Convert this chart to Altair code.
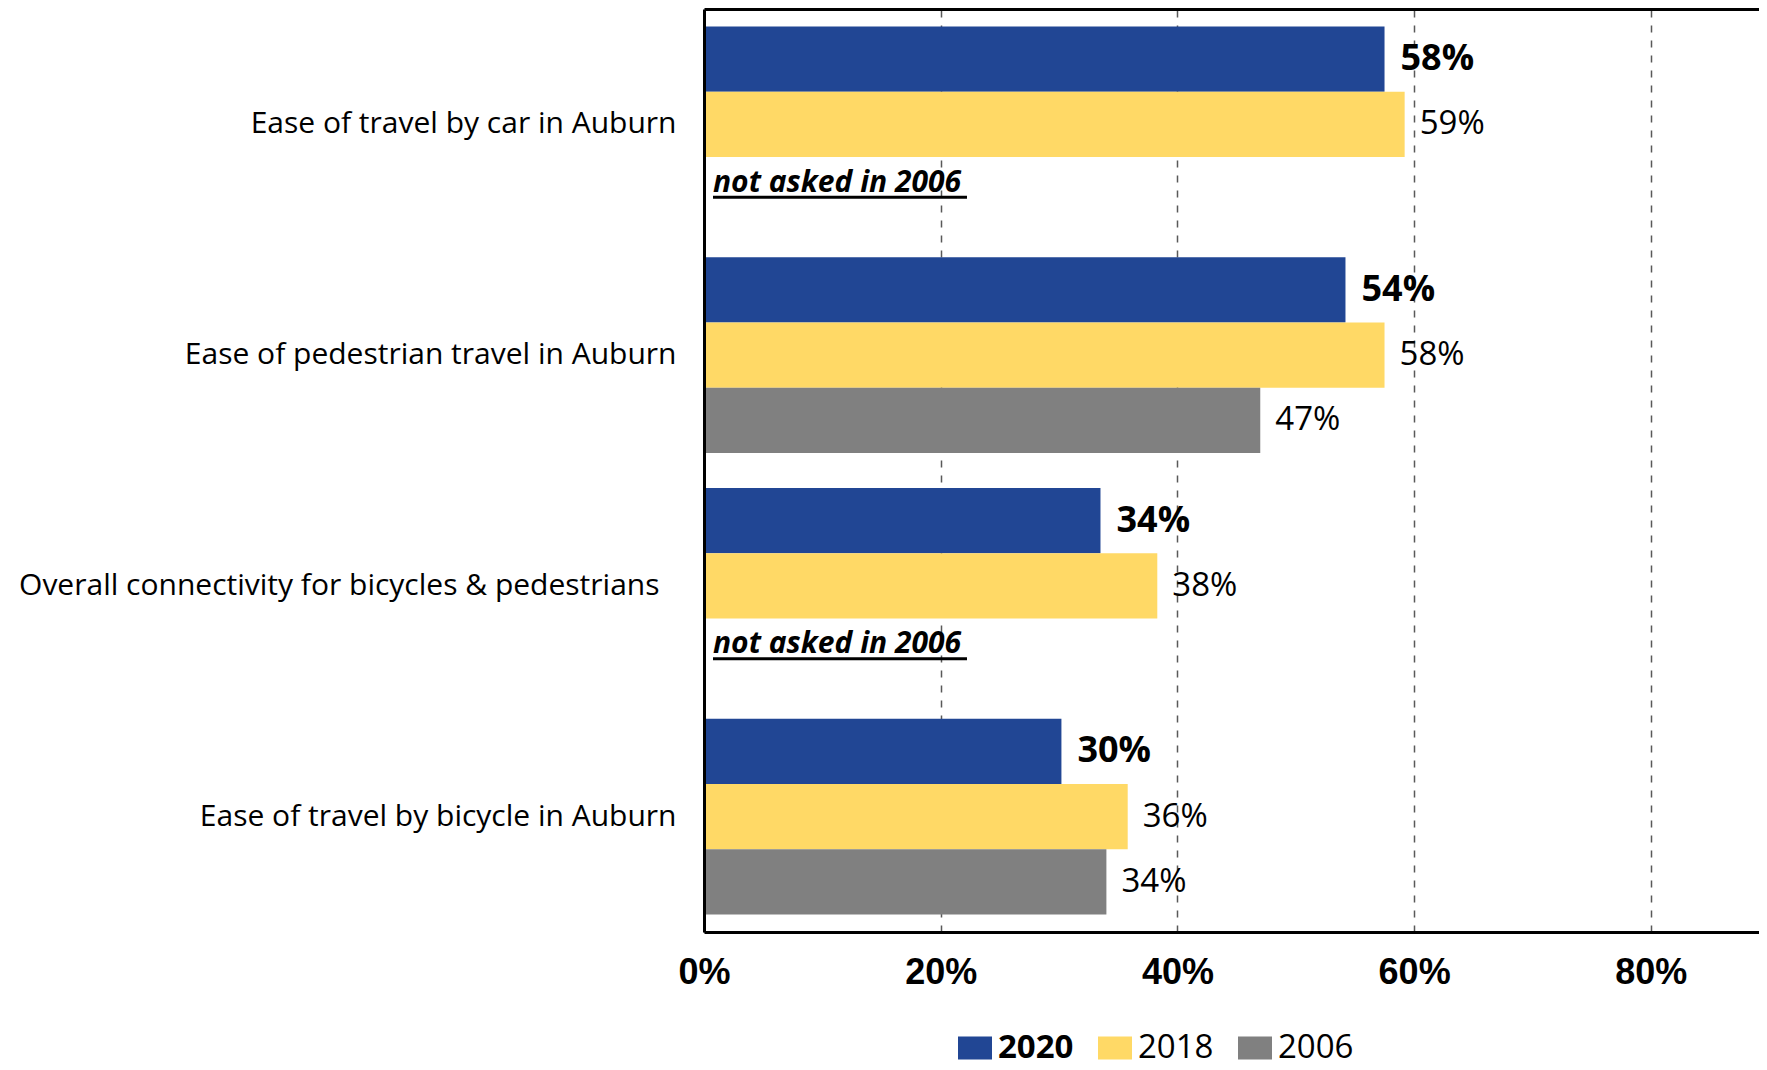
import altair as alt
import pandas as pd

categories = [
    "Ease of travel by car in Auburn",
    "Ease of pedestrian travel in Auburn",
    "Overall connectivity for bicycles & pedestrians",
    "Ease of travel by bicycle in Auburn",
]
years = ["2020", "2018", "2006"]
colors = ["#214694", "#FFD966", "#808080"]

values = {
    "2020": [0.575, 0.542, 0.335, 0.302],
    "2018": [0.592, 0.575, 0.383, 0.358],
    "2006": [None, 0.470, None, 0.340],
}
labels = {
    "2020": ["58%", "54%", "34%", "30%"],
    "2018": ["59%", "58%", "38%", "36%"],
    "2006": ["", "47%", "", "34%"],
}
tick_values = [0, 0.2, 0.4, 0.6, 0.8]
note_text = "not asked in 2006"
note_categories = [categories[0], categories[2]]
note_underline = 0.2146

rows = []
for y in years:
    for c, v, l in zip(categories, values[y], labels[y]):
        if v is not None:
            rows.append({"category": c, "year": y, "value": v, "label": l})
df = pd.DataFrame(rows)
notes = pd.DataFrame({
    "category": note_categories,
    "text": [note_text] * len(note_categories),
    "x0": [0.0] * len(note_categories),
    "x1": [note_underline] * len(note_categories),
})

CAT_FONT = "Open Sans"
AX_FONT = "Liberation Sans"

xscale = alt.Scale(domain=[0, 0.8914], nice=False, zero=True)
yscale = alt.Scale(domain=categories, paddingInner=0.151, paddingOuter=0.0757)
yoff = alt.YOffset("year:N", sort=years, scale=alt.Scale(domain=years, paddingInner=0, paddingOuter=0))
yaxis = alt.Axis(title=None, ticks=False, labelFont=CAT_FONT, labelFontSize=30,
                 labelColor="black", labelLimit=1000,
                 labelPadding={"condition": {"test": "indexof(datum.label, 'Overall') == 0", "value": 45},
                               "value": 28},
                 domainColor="black", domainWidth=3, zindex=1)

bars = alt.Chart(df).mark_bar().encode(
    x=alt.X("value:Q", scale=xscale,
            axis=alt.Axis(values=tick_values, format=".0%", title=None, ticks=False,
                          labelFont=AX_FONT, labelFontSize=36, labelFontWeight="bold",
                          labelColor="black", labelPadding=23, orient="bottom",
                          labelFlush=False,
                          domainColor="black", domainWidth=3,
                          grid=True, gridColor="#595959", gridWidth=1.5, gridDash=[7, 8])),
    y=alt.Y("category:N", sort=categories, scale=yscale, axis=yaxis),
    yOffset=yoff,
    color=alt.Color("year:N", sort=years,
                    scale=alt.Scale(domain=years, range=colors),
                    legend=alt.Legend(title=None, orient="none", direction="horizontal",
                                      legendX=254, legendY=1022,
                                      symbolType="M-1,-0.676H1V0.676H-1Z",
                                      symbolSize=1156, symbolStrokeWidth=0,
                                      labelFont=CAT_FONT, labelFontSize=33,
                                      labelColor="black", labelOffset=6,
                                      columnPadding=24, padding=0,
                                      labelFontWeight=alt.ExprRef("datum.label == '2020' ? 'bold' : 'normal'"))),
)

text_bold = alt.Chart(df).transform_filter("datum.year == '2020'").mark_text(
    align="left", baseline="middle", dx=16, font=CAT_FONT, fontSize=36,
    fontWeight="bold", color="black"
).encode(
    x=alt.X("value:Q", scale=xscale, axis=None),
    y=alt.Y("category:N", sort=categories, scale=yscale, axis=yaxis),
    yOffset=yoff,
    text="label:N",
)

text_reg = alt.Chart(df).transform_filter("datum.year != '2020'").mark_text(
    align="left", baseline="middle", dx=15, font=CAT_FONT, fontSize=33,
    color="black"
).encode(
    x=alt.X("value:Q", scale=xscale, axis=None),
    y=alt.Y("category:N", sort=categories, scale=yscale, axis=yaxis),
    yOffset=yoff,
    text="label:N",
)

note_text_layer = alt.Chart(notes).mark_text(
    align="left", baseline="middle", dx=9, font=CAT_FONT, fontSize=30,
    fontWeight="bold", fontStyle="italic", color="black"
).encode(
    x=alt.X("x0:Q", scale=xscale,
            axis=alt.Axis(orient="top", labels=False, ticks=False, grid=False, title=None,
                          domainColor="black", domainWidth=3)),
    y=alt.Y("category:N", sort=categories, scale=yscale, bandPosition=0.797, axis=yaxis),
    text="text:N",
)

note_rule = alt.Chart(notes).mark_rule(
    color="black", strokeWidth=3, xOffset=9, x2Offset=9
).encode(
    x=alt.X("x0:Q", scale=xscale, axis=None),
    x2="x1:Q",
    y=alt.Y("category:N", sort=categories, scale=yscale, bandPosition=0.872, axis=yaxis),
)

chart = alt.layer(bars, text_bold, text_reg, note_text_layer, note_rule).resolve_axis(
    x="independent"
).properties(
    width=1055, height=923,
    padding={"left": 696, "top": 1, "right": 0, "bottom": 150},
    autosize=alt.AutoSizeParams(type="none"),
).configure_view(stroke=None).configure(background="white")

chart.save("out.html", embed_options={"renderer": "svg", "actions": False})
